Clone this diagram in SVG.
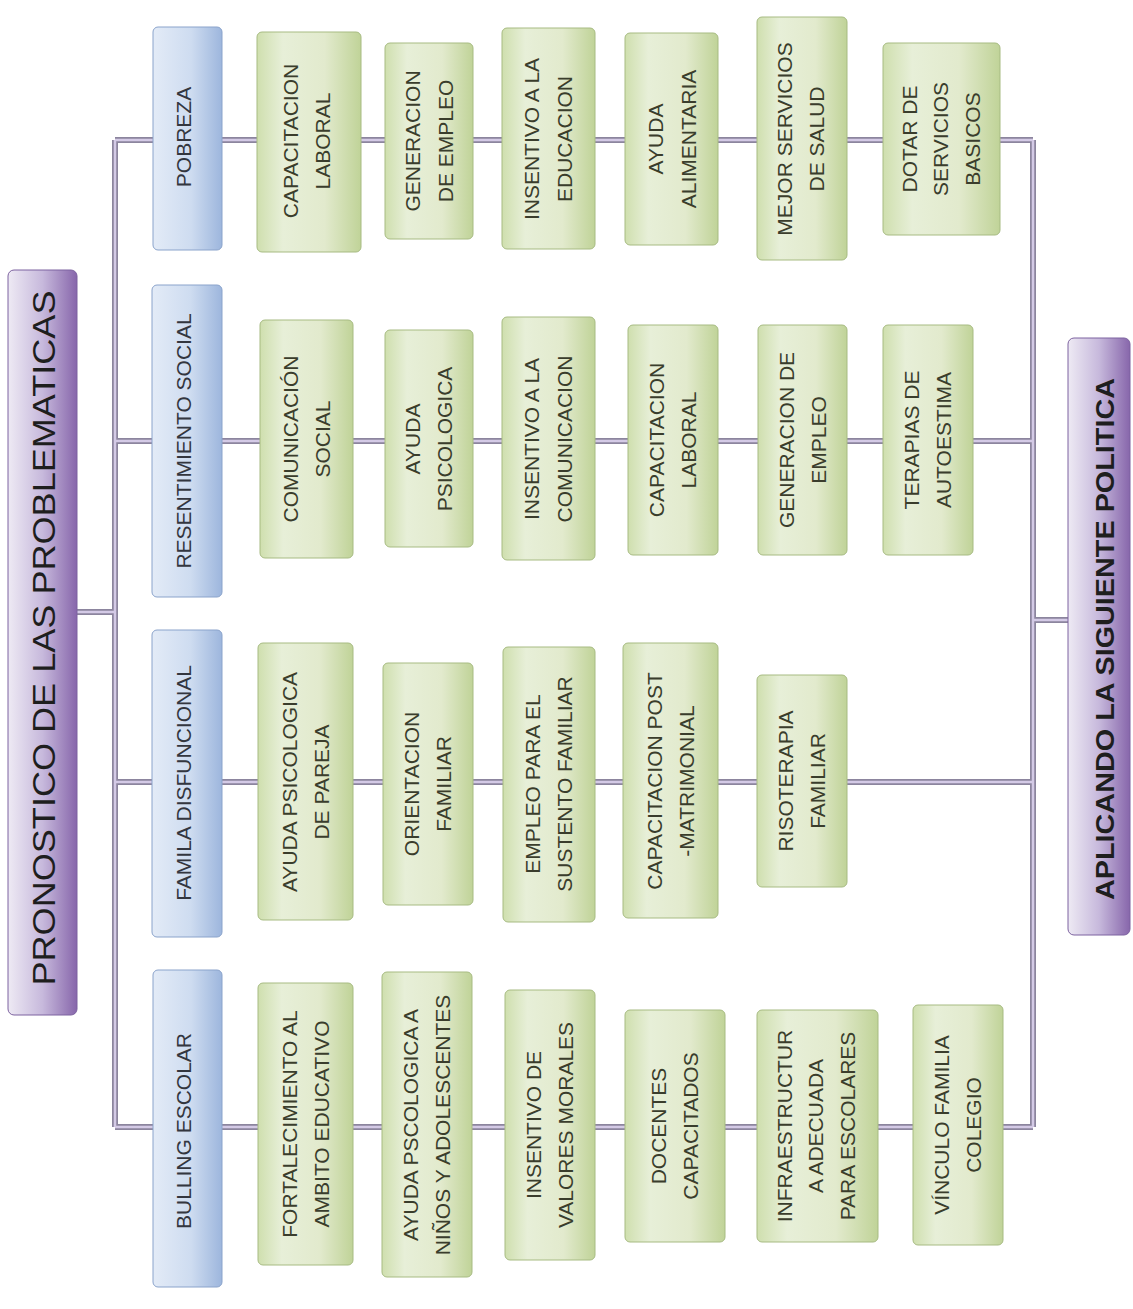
<svg xmlns="http://www.w3.org/2000/svg" width="1133" height="1309" viewBox="0 0 1133 1309">
<defs>
<linearGradient id="gGreen" x1="0" y1="0" x2="1" y2="0">
<stop offset="0" stop-color="#cfdfae"/>
<stop offset="0.25" stop-color="#e7efd8"/>
<stop offset="0.65" stop-color="#e2eacd"/>
<stop offset="1" stop-color="#c0d398"/>
</linearGradient>
<linearGradient id="gBlue" x1="0" y1="0" x2="1" y2="0">
<stop offset="0" stop-color="#e3ebf7"/>
<stop offset="0.55" stop-color="#cedcf0"/>
<stop offset="1" stop-color="#9db6dd"/>
</linearGradient>
<linearGradient id="gPurple" x1="0" y1="0" x2="1" y2="0">
<stop offset="0" stop-color="#eeeaf4"/>
<stop offset="0.5" stop-color="#c7b9dc"/>
<stop offset="1" stop-color="#8766ab"/>
</linearGradient>
<style>
.green{fill:url(#gGreen);stroke:#a7bb82;stroke-width:1}
.blue{fill:url(#gBlue);stroke:#8aa3cb;stroke-width:1}
.purple{fill:url(#gPurple);stroke:#7d62a0;stroke-width:1}
.t{font-family:"Liberation Sans",Arial,sans-serif;font-size:21px;fill:#3a3d2c;text-anchor:middle}
.tc{font-family:"Liberation Sans",Arial,sans-serif;font-size:21px;fill:#33363f;text-anchor:middle}
.title{font-family:"Liberation Sans",Arial,sans-serif;font-size:31px;fill:#1e1e1e;text-anchor:middle}
.pol{font-family:"Liberation Sans",Arial,sans-serif;font-size:26px;font-weight:bold;fill:#1e1e1e;text-anchor:middle}
.lo{fill:none;stroke:#8c859e;stroke-width:6}
.li{fill:none;stroke:#d4cae6;stroke-width:2.5}
</style>
</defs>
<rect width="1133" height="1309" fill="#ffffff"/>

<g id="connectors">
<g class="lo">
<path d="M115 140 V1127 M1033 140 V1127 M115 140 H1033 M115 441 H1033 M115 782 H1033 M115 1127 H1033 M77 612 H115 M1033 620 H1068"/>
</g>
<g class="li">
<path d="M115 140 V1127 M1033 140 V1127 M115 140 H1033 M115 441 H1033 M115 782 H1033 M115 1127 H1033 M77 612 H115 M1033 620 H1068"/>
</g>
</g>

<g id="title">
<rect class="purple" x="8" y="270" width="69" height="745" rx="6"/>
<text class="title" transform="rotate(-90)" x="-638" y="55" textLength="695" lengthAdjust="spacingAndGlyphs">PRONOSTICO DE LAS PROBLEMATICAS</text>
</g>

<g id="politica">
<rect class="purple" x="1068" y="338" width="62" height="597" rx="6"/>
<text class="pol" transform="rotate(-90)" x="-639" y="1114" textLength="522" lengthAdjust="spacingAndGlyphs">APLICANDO LA SIGUIENTE POLITICA</text>
</g>

<g id="cat-pobreza">
<rect class="blue" x="153" y="27" width="69" height="223" rx="5"/>
<text class="tc" transform="rotate(-90)" x="-137" y="191">POBREZA</text>
</g>
<g id="cat-resentimiento">
<rect class="blue" x="152" y="285" width="70" height="312" rx="5"/>
<text class="tc" transform="rotate(-90)" x="-441" y="191">RESENTIMIENTO SOCIAL</text>
</g>
<g id="cat-familia">
<rect class="blue" x="152" y="630" width="70" height="307" rx="5"/>
<text class="tc" transform="rotate(-90)" x="-783" y="191">FAMILA DISFUNCIONAL</text>
</g>
<g id="cat-bulling">
<rect class="blue" x="153" y="970" width="69" height="317" rx="5"/>
<text class="tc" transform="rotate(-90)" x="-1131" y="191">BULLING ESCOLAR</text>
</g>

<!-- Row 1: Pobreza -->
<g id="p1"><rect class="green" x="257" y="32" width="104" height="220" rx="5"/>
<text class="t" transform="rotate(-90)"><tspan x="-141" y="298">CAPACITACION</tspan><tspan x="-141" y="330">LABORAL</tspan></text></g>
<g id="p2"><rect class="green" x="385" y="43" width="88" height="196" rx="5"/>
<text class="t" transform="rotate(-90)"><tspan x="-141" y="420">GENERACION</tspan><tspan x="-141" y="453">DE EMPLEO</tspan></text></g>
<g id="p3"><rect class="green" x="502" y="28" width="93" height="221" rx="5"/>
<text class="t" transform="rotate(-90)"><tspan x="-139" y="539">INSENTIVO A LA</tspan><tspan x="-139" y="572">EDUCACION</tspan></text></g>
<g id="p4"><rect class="green" x="625" y="33" width="93" height="212" rx="5"/>
<text class="t" transform="rotate(-90)"><tspan x="-139" y="663">AYUDA</tspan><tspan x="-139" y="696">ALIMENTARIA</tspan></text></g>
<g id="p5"><rect class="green" x="757" y="17" width="90" height="243" rx="5"/>
<text class="t" transform="rotate(-90)"><tspan x="-139" y="792">MEJOR SERVICIOS</tspan><tspan x="-139" y="824">DE SALUD</tspan></text></g>
<g id="p6"><rect class="green" x="883" y="43" width="117" height="192" rx="5"/>
<text class="t" transform="rotate(-90)"><tspan x="-139" y="917">DOTAR DE</tspan><tspan x="-139" y="948">SERVICIOS</tspan><tspan x="-139" y="980">BASICOS</tspan></text></g>

<!-- Row 2: Resentimiento social -->
<g id="r1"><rect class="green" x="260" y="320" width="93" height="238" rx="5"/>
<text class="t" transform="rotate(-90)"><tspan x="-439" y="298">COMUNICACIÓN</tspan><tspan x="-439" y="330">SOCIAL</tspan></text></g>
<g id="r2"><rect class="green" x="385" y="330" width="88" height="217" rx="5"/>
<text class="t" transform="rotate(-90)"><tspan x="-439" y="420">AYUDA</tspan><tspan x="-439" y="452">PSICOLOGICA</tspan></text></g>
<g id="r3"><rect class="green" x="502" y="317" width="93" height="243" rx="5"/>
<text class="t" transform="rotate(-90)"><tspan x="-439" y="539">INSENTIVO A LA</tspan><tspan x="-439" y="572">COMUNICACION</tspan></text></g>
<g id="r4"><rect class="green" x="628" y="325" width="90" height="230" rx="5"/>
<text class="t" transform="rotate(-90)"><tspan x="-440" y="664">CAPACITACION</tspan><tspan x="-440" y="696">LABORAL</tspan></text></g>
<g id="r5"><rect class="green" x="758" y="325" width="89" height="230" rx="5"/>
<text class="t" transform="rotate(-90)"><tspan x="-440" y="794">GENERACION DE</tspan><tspan x="-440" y="826">EMPLEO</tspan></text></g>
<g id="r6"><rect class="green" x="883" y="325" width="90" height="230" rx="5"/>
<text class="t" transform="rotate(-90)"><tspan x="-440" y="919">TERAPIAS DE</tspan><tspan x="-440" y="951">AUTOESTIMA</tspan></text></g>

<!-- Row 3: Familia disfuncional -->
<g id="f1"><rect class="green" x="258" y="643" width="95" height="277" rx="5"/>
<text class="t" transform="rotate(-90)"><tspan x="-782" y="297">AYUDA PSICOLOGICA</tspan><tspan x="-782" y="329">DE PAREJA</tspan></text></g>
<g id="f2"><rect class="green" x="383" y="663" width="90" height="242" rx="5"/>
<text class="t" transform="rotate(-90)"><tspan x="-784" y="419">ORIENTACION</tspan><tspan x="-784" y="451">FAMILIAR</tspan></text></g>
<g id="f3"><rect class="green" x="503" y="647" width="92" height="275" rx="5"/>
<text class="t" transform="rotate(-90)"><tspan x="-784" y="540">EMPLEO PARA EL</tspan><tspan x="-784" y="572">SUSTENTO FAMILIAR</tspan></text></g>
<g id="f4"><rect class="green" x="623" y="643" width="95" height="275" rx="5"/>
<text class="t" transform="rotate(-90)"><tspan x="-781" y="662">CAPACITACION POST</tspan><tspan x="-781" y="694">-MATRIMONIAL</tspan></text></g>
<g id="f5"><rect class="green" x="757" y="675" width="90" height="212" rx="5"/>
<text class="t" transform="rotate(-90)"><tspan x="-781" y="793">RISOTERAPIA</tspan><tspan x="-781" y="825">FAMILIAR</tspan></text></g>

<!-- Row 4: Bulling escolar -->
<g id="b1"><rect class="green" x="258" y="983" width="95" height="282" rx="5"/>
<text class="t" transform="rotate(-90)"><tspan x="-1124" y="297">FORTALECIMIENTO AL</tspan><tspan x="-1124" y="329">AMBITO EDUCATIVO</tspan></text></g>
<g id="b2"><rect class="green" x="382" y="972" width="90" height="305" rx="5"/>
<text class="t" transform="rotate(-90)"><tspan x="-1125" y="418">AYUDA PSCOLOGICA A</tspan><tspan x="-1125" y="450">NIÑOS Y ADOLESCENTES</tspan></text></g>
<g id="b3"><rect class="green" x="505" y="990" width="90" height="270" rx="5"/>
<text class="t" transform="rotate(-90)"><tspan x="-1125" y="541">INSENTIVO DE</tspan><tspan x="-1125" y="573">VALORES MORALES</tspan></text></g>
<g id="b4"><rect class="green" x="625" y="1010" width="100" height="232" rx="5"/>
<text class="t" transform="rotate(-90)"><tspan x="-1126" y="666">DOCENTES</tspan><tspan x="-1126" y="698">CAPACITADOS</tspan></text></g>
<g id="b5"><rect class="green" x="757" y="1010" width="121" height="232" rx="5"/>
<text class="t" transform="rotate(-90)"><tspan x="-1126" y="792">INFRAESTRUCTUR</tspan><tspan x="-1126" y="823">A ADECUADA</tspan><tspan x="-1126" y="855">PARA ESCOLARES</tspan></text></g>
<g id="b6"><rect class="green" x="913" y="1005" width="90" height="240" rx="5"/>
<text class="t" transform="rotate(-90)"><tspan x="-1125" y="949">VÍNCULO FAMILIA</tspan><tspan x="-1125" y="981">COLEGIO</tspan></text></g>
</svg>
